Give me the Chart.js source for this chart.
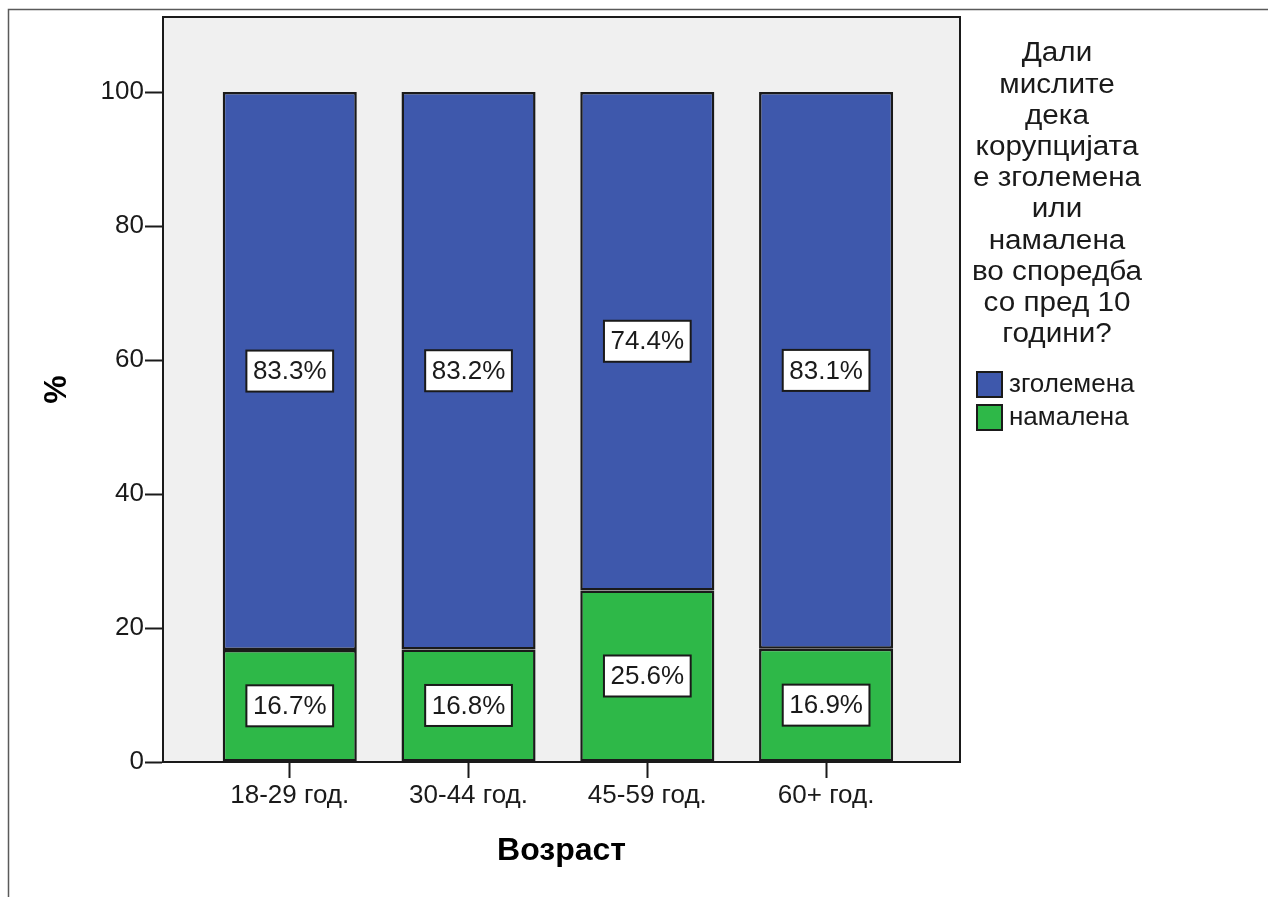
<!DOCTYPE html>
<html>
<head>
<meta charset="utf-8">
<script src="https://cdn.jsdelivr.net/npm/chart.js@4.4.0/dist/chart.umd.min.js"></script>
<style>
  html, body { margin: 0; padding: 0; background: #fff; }
  #wrap { width: 1268px; height: 897px; }
</style>
</head>
<body>
<div id="wrap"><canvas id="chart" width="1268" height="897"></canvas></div>
<script>
// data
const ageGroups = ['18-29 год.', '30-44 год.', '45-59 год.', '60+ год.'];
const increased = [83.3, 83.2, 74.4, 83.1];   // зголемена
const decreased = [16.7, 16.8, 25.6, 16.9];   // намалена
const yTicks = [0, 20, 40, 60, 80, 100];
const legendTitle = ['Дали', 'мислите', 'дека', 'корупцијата', 'е зголемена',
  'или', 'намалена', 'во споредба', 'со пред 10', 'години?'];

const FONT = '"Liberation Sans", Arial, sans-serif';
const INK = '#1a1a1a';

const toPoints = arr => arr.map((v, i) => ({ x: i, y: v }));

// plot background, outer frame, plot frame
const framePlugin = {
  id: 'frame',
  beforeDraw(chart) {
    const { ctx, chartArea: a } = chart;
    ctx.save();
    ctx.fillStyle = '#fff';
    ctx.fillRect(0, 0, chart.width, chart.height);
    ctx.strokeStyle = '#5a5a5a';
    ctx.lineWidth = 1.5;
    ctx.beginPath();
    ctx.moveTo(8.5, chart.height);
    ctx.lineTo(8.5, 9.5);
    ctx.lineTo(chart.width, 9.5);
    ctx.stroke();
    ctx.fillStyle = '#f0f0f0';
    ctx.fillRect(a.left, a.top, a.right - a.left, a.bottom - a.top);
    ctx.restore();
  },
  afterDatasetsDraw(chart) {
    const { ctx, chartArea: a } = chart;
    ctx.save();
    ctx.strokeStyle = INK;
    ctx.lineWidth = 2;
    ctx.strokeRect(a.left, a.top, a.right - a.left, a.bottom - a.top);

    // value boxes in the middle of each segment
    ctx.font = '26px ' + FONT;
    ctx.textAlign = 'center';
    ctx.textBaseline = 'middle';
    chart.data.datasets.forEach((ds, di) => {
      chart.getDatasetMeta(di).data.forEach((bar, i) => {
        const text = ds.data[i].y.toFixed(1) + '%';
        const cx = bar.x;
        const cy = (bar.y + bar.base) / 2;
        const w = ctx.measureText(text).width + 13;
        const h = 41;
        ctx.fillStyle = '#fff';
        ctx.fillRect(cx - w / 2, cy - h / 2, w, h);
        ctx.strokeStyle = INK;
        ctx.lineWidth = 2;
        ctx.strokeRect(cx - w / 2, cy - h / 2, w, h);
        ctx.fillStyle = INK;
        ctx.fillText(text, cx, cy + 1);
      });
    });
    ctx.restore();
  },
  afterDraw(chart) {
    const { ctx } = chart;
    ctx.save();
    ctx.fillStyle = INK;
    ctx.textBaseline = 'middle';
    ctx.textAlign = 'center';
    // the legend title is set wide in the original
    ctx.save();
    ctx.translate(1057, 0);
    ctx.scale(1.1, 1);
    ctx.font = '27px ' + FONT;
    legendTitle.forEach((line, i) => ctx.fillText(line, 0, 54 + i * 31.2));
    ctx.restore();

    // legend entries, top entry = top segment
    ctx.font = '26px ' + FONT;
    ctx.textAlign = 'left';
    const items = chart.data.datasets.slice().reverse();
    items.forEach((ds, i) => {
      const y = 372 + i * 33;
      ctx.fillStyle = ds.backgroundColor;
      ctx.fillRect(977, y, 25, 25);
      ctx.strokeStyle = INK;
      ctx.lineWidth = 2;
      ctx.strokeRect(977, y, 25, 25);
      ctx.fillStyle = INK;
      ctx.fillText(ds.label, 1009, y + 13);
    });
    ctx.restore();
  }
};

const gridOpts = len => ({
  drawOnChartArea: false,
  drawTicks: true,
  tickLength: len,
  tickColor: INK,
  tickWidth: 2,
  offset: false
});

new Chart(document.getElementById('chart'), {
  type: 'bar',
  data: {
    datasets: [
      {
        label: 'намалена',
        data: toPoints(decreased),
        backgroundColor: '#2eb848',
        borderColor: INK,
        borderWidth: 2.5,
        borderSkipped: false,
        barPercentage: 0.75,
        categoryPercentage: 1
      },
      {
        label: 'зголемена',
        data: toPoints(increased),
        backgroundColor: '#3e58ac',
        borderColor: INK,
        borderWidth: 2.5,
        borderSkipped: false,
        barPercentage: 0.75,
        categoryPercentage: 1
      }
    ]
  },
  options: {
    responsive: false,
    animation: false,
    devicePixelRatio: 1,
    layout: { padding: { left: 34, top: 17, right: 308, bottom: 23 } },
    plugins: {
      legend: { display: false },
      tooltip: { enabled: false }
    },
    scales: {
      x: {
        type: 'linear',
        stacked: true,
        min: -0.709,
        max: 3.749,
        offset: false,
        grid: gridOpts(16),
        border: { color: INK, width: 2 },
        afterBuildTicks: s => { s.ticks = ageGroups.map((_, i) => ({ value: i })); },
        afterFit: s => { s.height = 112; },
        ticks: {
          padding: 2,
          color: INK,
          autoSkip: false,
          maxRotation: 0,
          font: { family: FONT, size: 26 },
          callback: v => ageGroups[v]
        },
        title: {
          display: true,
          text: 'Возраст',
          color: '#000',
          font: { family: FONT, size: 32, weight: 'bold' },
          padding: { top: 4, bottom: 4 }
        }
      },
      y: {
        stacked: true,
        min: 0,
        max: 111.2,
        grid: gridOpts(18),
        border: { color: INK, width: 2 },
        afterBuildTicks: s => { s.ticks = yTicks.map(v => ({ value: v })); },
        afterFit: s => { s.width = 129; },
        ticks: {
          padding: 1,
          color: INK,
          font: { family: FONT, size: 26 }
        },
        title: {
          display: true,
          text: '%',
          color: '#000',
          font: { family: FONT, size: 32, weight: 'bold' },
          padding: { top: 4, bottom: 4 }
        }
      }
    }
  },
  plugins: [framePlugin]
});
</script>
</body>
</html>
